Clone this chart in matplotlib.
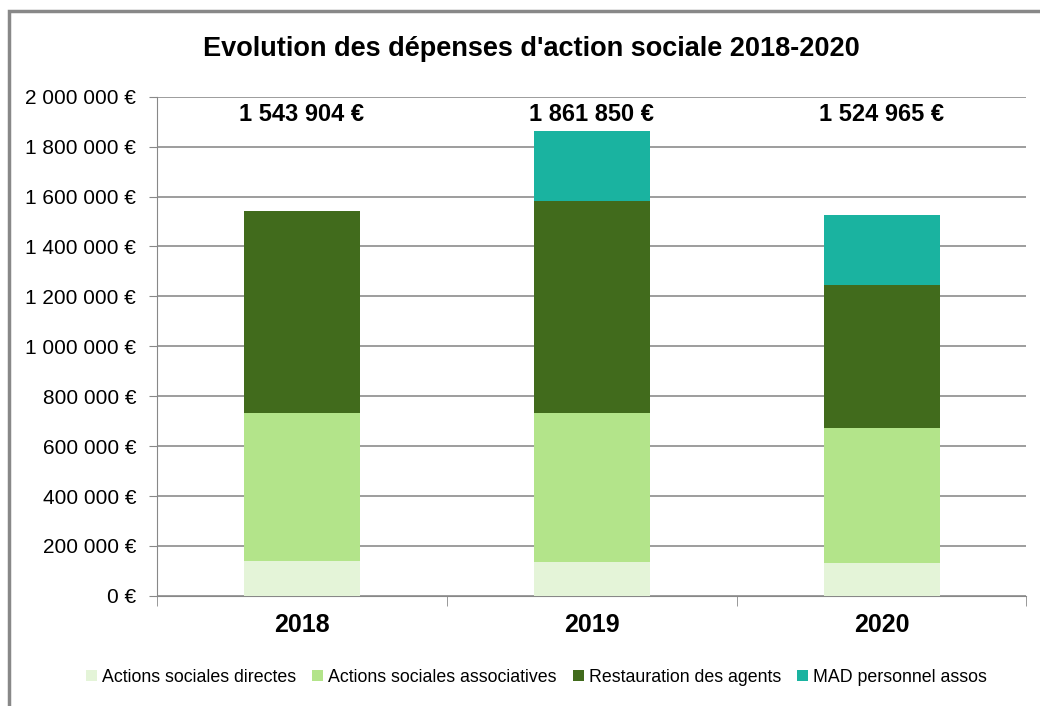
import numpy as np
import matplotlib.pyplot as plt
from matplotlib.patches import Rectangle
from matplotlib.ticker import FuncFormatter

plt.rcParams['font.family'] = ['Liberation Sans', 'DejaVu Sans']

years = ['2018', '2019', '2020']
totals = ['1 543 904 €', '1 861 850 €', '1 524 965 €']
series_names = ['Actions sociales directes', 'Actions sociales associatives',
                'Restauration des agents', 'MAD personnel assos']
directes = [140000, 134000, 130000]
associatives = [591000, 599000, 543000]
restauration = [813000, 849000, 571000]
mad = [0, 280000, 281000]
colors = ['#E4F4D8', '#B3E48A', '#416B1C', '#1AB3A0']

fig = plt.figure(figsize=(10.4, 7.06), dpi=100)
ax = fig.add_axes([0.151, 0.156, 0.836, 0.707])

x = np.arange(len(years))
bottom = np.zeros(len(years))
for name, vals, c in zip(series_names, [directes, associatives, restauration, mad], colors):
    ax.bar(x, vals, 0.4, bottom=bottom, color=c, label=name, zorder=3)
    bottom += np.array(vals)

for xi, t in zip(x, totals):
    ax.text(xi, 1928000, t, ha='center', va='center', fontsize=17, fontweight='bold')

ax.set_xlim(-0.5, 2.5)
ax.set_ylim(0, 2000000)
ax.set_yticks(np.arange(0, 2000001, 200000))
ax.yaxis.set_major_formatter(FuncFormatter(lambda v, p: '{:,.0f} €'.format(v).replace(',', ' ')))
ax.tick_params(axis='y', labelsize=15, length=6, color='#888888', pad=9)
ax.grid(axis='y', color='#8c8c8c', linewidth=1.2, zorder=0)

ax.set_xticks(x)
ax.set_xticklabels(years, fontsize=18, fontweight='bold')
ax.set_xticks([-0.5, 0.5, 1.5, 2.5], minor=True)
ax.tick_params(axis='x', which='major', length=0, pad=12)
ax.tick_params(axis='x', which='minor', length=7, color='#888888')

for s in ['top', 'right']:
    ax.spines[s].set_visible(False)
ax.spines['left'].set_color('#888888')
ax.spines['bottom'].set_color('#888888')

fig.text(0.511, 0.93, "Evolution des dépenses d'action sociale 2018-2020",
         ha='center', va='center', fontsize=19.5, fontweight='bold')

fig.legend(loc='center', bbox_to_anchor=(0.516, 0.041), ncol=4, frameon=False,
           fontsize=12.8, handlelength=0.6, handleheight=0.6, handletextpad=0.3,
           columnspacing=0.9)

fig.patches.append(Rectangle((0.0087, -0.05), 1.1, 1.0344, transform=fig.transFigure,
                             fill=False, edgecolor='#888888', linewidth=2.5))

fig.savefig('out.png', dpi=100)
